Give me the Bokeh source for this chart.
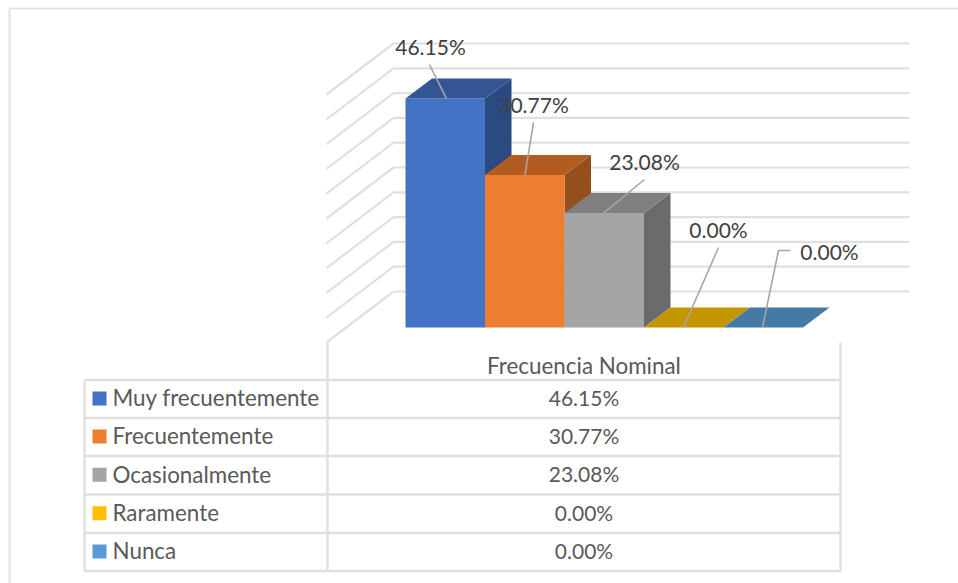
from bokeh.plotting import figure
from bokeh.models import Range1d
from bokeh.core.properties import value
from bokeh.embed import file_html
from bokeh.resources import INLINE

# Survey data
categories = ["Muy frecuentemente", "Frecuentemente", "Ocasionalmente", "Raramente", "Nunca"]
percentages = [46.15, 30.77, 23.08, 0.00, 0.00]
percent_labels = ["46.15%", "30.77%", "23.08%", "0.00%", "0.00%"]
column_title = "Frecuencia Nominal"
wall_ticks = [0, 5, 10, 15, 20, 25, 30, 35, 40, 45, 50]

# Colours per series: front, top, side, legend key
front_colors = ["#4472C4", "#ED7D31", "#A5A5A5", "#C49600", "#447AA6"]
top_colors = ["#335593", "#B25C22", "#7F7F7F", "#C49600", "#447AA6"]
side_colors = ["#2A4A80", "#954F1C", "#6B6B6B", "#C49600", "#447AA6"]
key_colors = ["#4472C4", "#ED7D31", "#A5A5A5", "#FFC000", "#5B9BD5"]

W, H = 958, 583
BAR_PX = 79.5      # pixels per category
VAL_PX = 4.96      # pixels per percentage point
ORIGIN_X = 405.0   # pixel column of the first bar
ORIGIN_Y = 327.0   # pixel row of the bars' base


def xd(px):
    """Pixel column to category units."""
    return (px - ORIGIN_X) / BAR_PX


def yd(py):
    """Pixel row to percentage units."""
    return (ORIGIN_Y - py) / VAL_PX


p = figure(width=W, height=H, output_backend="svg", toolbar_location=None,
           x_range=Range1d(xd(0), xd(W)), y_range=Range1d(yd(H), yd(0)),
           min_border=0, background_fill_color="white", border_fill_color="white",
           outline_line_color=None)
p.axis.visible = False
p.grid.visible = False

GRID = "#E0E0E0"
FONT = value("Lato")
NUMBER_SIZE = "21px"
WORD_SIZE = "22.4px"
LABEL_COLOR = "#404040"
TABLE_COLOR = "#595959"


def rule(x0, y0, x1, y1, color=GRID, width=2.4):
    p.line([xd(x0), xd(x1)], [yd(y0), yd(y1)], line_color=color, line_width=width)


# Outer chart frame
rule(8.5, 8, 958, 8, "#DDDDDD", 1.5)
rule(9, 8, 9, 583, "#E2E2E2", 2.0)

# Back wall and left wall of the 3D plot box, one line per tick
WALL_BASE_PY = 291.0
for t in wall_ticks:
    wall_y = yd(WALL_BASE_PY) + t
    p.line([xd(393), xd(909)], [wall_y, wall_y], line_color=GRID, line_width=2.2)
    p.line([xd(326), xd(393)], [wall_y - yd(WALL_BASE_PY) + yd(342), wall_y],
           line_color=GRID, line_width=2.2)

# Extruded bars
DEPTH_X = 26.5 / BAR_PX
DEPTH_Y = 20.0 / VAL_PX
for i, v in enumerate(percentages):
    if v > 0:
        p.patch([i + 1, i + 1 + DEPTH_X, i + 1 + DEPTH_X, i + 1],
                [0, DEPTH_Y, v + DEPTH_Y, v], fill_color=side_colors[i], line_color=None)
        p.quad(left=i, right=i + 1, bottom=0, top=v, fill_color=front_colors[i], line_color=None)
    p.patch([i, i + 1, i + 1 + DEPTH_X, i + DEPTH_X],
            [v, v, v + DEPTH_Y, v + DEPTH_Y], fill_color=top_colors[i], line_color=None)

# Leader lines from each data label to its bar
LEADER = "#A6A6A6"
leaders = [
    ([429, 446], [64, None]),
    ([533, 524.5], [122, None]),
    ([644, 603], [179, None]),
    ([718, 683], [247, None]),
    ([790, 778, 762], [250, 250, None]),
]
for i, (xs, ys) in enumerate(leaders):
    p.line([xd(x) for x in xs],
           [percentages[i] if y is None else yd(y) for y in ys],
           line_color=LEADER, line_width=1.6)

# Data labels
label_px = [(430, 45.5), (533, 103.5), (644, 160.5), (718, 228.5), (829, 250.5)]
p.text([xd(a) for a, _ in label_px], [yd(b) for _, b in label_px], text=percent_labels,
       text_font=FONT, text_font_size=NUMBER_SIZE, text_color=LABEL_COLOR,
       text_align="center", text_baseline="middle")

# Data table under the plot
TABLE_L, TABLE_M, TABLE_R = 84, 327, 840
ROWS = [379.5, 417.5, 455.5, 494, 532.5, 570.5]
rule(TABLE_M, 342, TABLE_M, ROWS[-1])
rule(TABLE_R, 342, TABLE_R, ROWS[-1])
rule(TABLE_L, ROWS[0], TABLE_L, ROWS[-1])
for r in ROWS:
    rule(TABLE_L, r, TABLE_R, r)

p.text([xd((TABLE_M + TABLE_R) / 2)], [yd(365)], text=[column_title],
       text_font=FONT, text_font_size=WORD_SIZE, text_color=TABLE_COLOR,
       text_align="center", text_baseline="middle")

for i, name in enumerate(categories):
    cy = (ROWS[i] + ROWS[i + 1]) / 2
    p.quad(left=xd(92), right=xd(106), top=yd(cy - 7.5), bottom=yd(cy + 6.5),
           fill_color=key_colors[i], line_color=None)
    p.text([xd(112)], [yd(cy - 1.2)], text=[name], text_font=FONT, text_font_size=WORD_SIZE,
           text_color=TABLE_COLOR, text_align="left", text_baseline="middle")
    p.text([xd((TABLE_M + TABLE_R) / 2)], [yd(cy - 1.5)], text=[percent_labels[i]], text_font=FONT,
           text_font_size=NUMBER_SIZE, text_color=TABLE_COLOR,
           text_align="center", text_baseline="middle")

open("out.html", "w").write(file_html(p, INLINE))
